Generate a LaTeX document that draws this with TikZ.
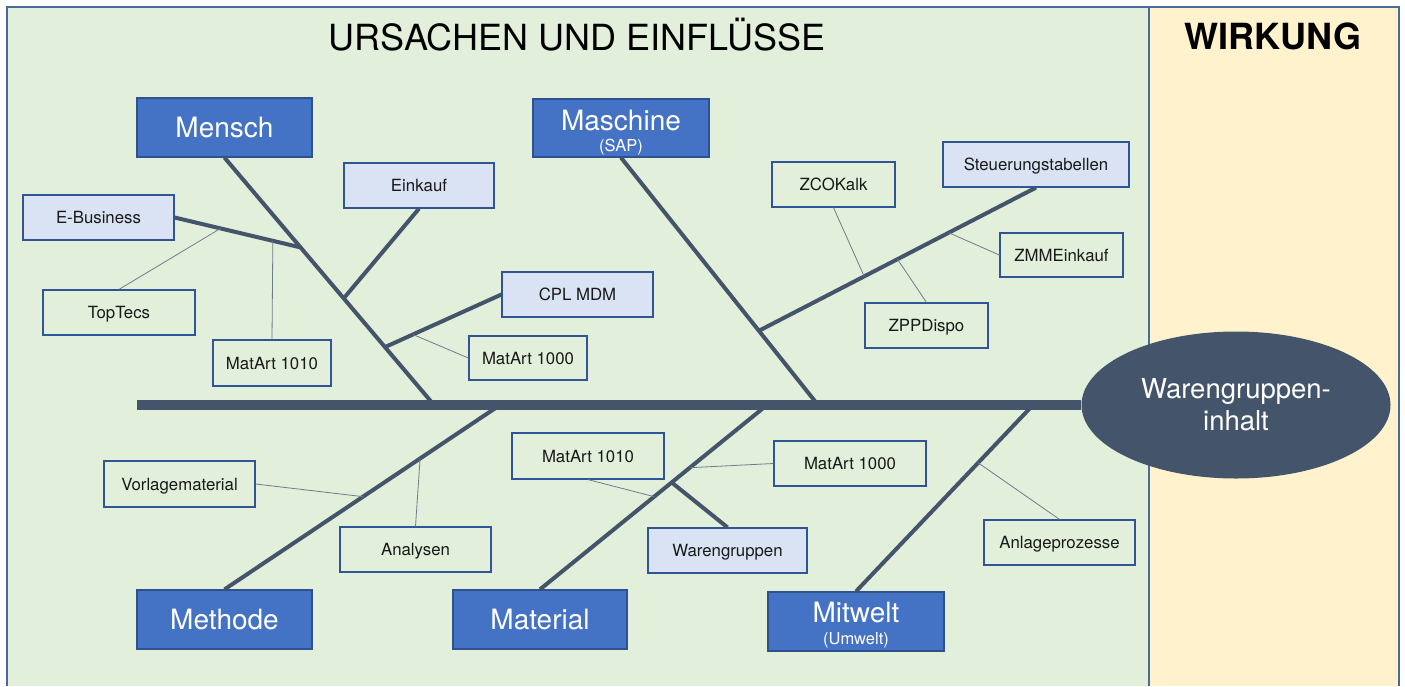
\documentclass[tikz,border=0pt]{standalone}
\usepackage{fontspec}
\setmainfont{TeX Gyre Heros}
\usetikzlibrary{calc,shapes.geometric}

\definecolor{panelgreen}{HTML}{E2EFDA}
\definecolor{panelyellow}{HTML}{FFF2CC}
\definecolor{frameblue}{HTML}{4A6A9E}
\definecolor{catblue}{HTML}{4472C4}
\definecolor{catedge}{HTML}{2F528F}
\definecolor{causefill}{HTML}{DAE3F3}
\definecolor{causeedge}{HTML}{2F5597}
\definecolor{slate}{HTML}{44546A}
\definecolor{twig}{HTML}{6E7D8C}

\newcommand{\setfs}[1]{\fontsize{#1}{#1}\selectfont}

\tikzset{
  catbox/.style={draw=catedge, fill=catblue, line width=1.2pt, minimum width=175pt,
    minimum height=59pt, inner sep=0pt, text=white, font=\setfs{28},
    text height=20pt, text depth=0pt},
  cattext/.style={inner sep=0pt, text=white, font=\setfs{28}, text height=20pt, text depth=0pt},
  subtext/.style={inner sep=0pt, text=white, font=\setfs{16.5}, text height=11.8pt, text depth=0pt},
  causebox/.style={draw=causeedge, line width=1.2pt, minimum height=45pt, inner sep=0pt,
    font=\setfs{16.8}, text height=12pt, text depth=0pt, text=black!90},
  shadedbox/.style={causebox, fill=causefill},
  openbox/.style={causebox},
  bone/.style={slate, line width=4pt},
  spineline/.style={slate, line width=10pt},
  twigline/.style={twig, line width=0.8pt},
}

\begin{document}
\begin{tikzpicture}[x=1pt, y=-1pt]
  % canvas and the two panels
  \fill[white] (0,0) rectangle (1405,686);
  \useasboundingbox (0,0) rectangle (1405,686);
  \fill[panelgreen] (7,7) rectangle (1149,686);
  \fill[panelyellow] (1149,7) rectangle (1399,686);
  \draw[frameblue, line width=1.5pt] (7,686) -- (7,7) -- (1399,7) -- (1399,686);
  \draw[frameblue, line width=1.5pt] (1149,7) -- (1149,686);

  % headings
  \node[inner sep=0pt, font=\setfs{36}, text height=26pt, text depth=0pt] (causes-title)
    at (577,37.5) {URSACHEN UND EINFLÜSSE};
  \node[inner sep=0pt, font=\setfs{36}\bfseries, text height=26pt, text depth=0pt] (effect-title)
    at (1273,36.5) {WIRKUNG};

  % effect (fish head)
  \node[ellipse, fill=slate, minimum width=309pt, minimum height=147pt, inner sep=0pt,
    text=white, align=center, font=\fontsize{27.5}{32}\selectfont] (effect)
    at (1236,405) {Warengruppen-\\inhalt};

  % main categories
  \node[catbox] (mensch) at (224.5,127.5) {Mensch};
  \node[catbox, minimum width=176pt, minimum height=58pt] (maschine) at (621,128) {};
  \node[cattext] (maschine-t) at (621,120) {Maschine};
  \node[subtext] (maschine-s) at (621,146) {(SAP)};
  \node[catbox] (methode) at (224.5,619.5) {Methode};
  \node[catbox, minimum width=174pt] (material) at (540,619.5) {Material};
  \node[catbox, minimum width=176pt] (mitwelt) at (856,621.5) {};
  \node[cattext] (mitwelt-t) at (856,612) {Mitwelt};
  \node[subtext] (mitwelt-s) at (856,639) {(Umwelt)};

  % causes
  \node[shadedbox, minimum width=151pt] (ebiz) at (98.5,217.5) {E-Business};
  \node[shadedbox, minimum width=150pt] (einkauf) at (419,185.5) {Einkauf};
  \node[shadedbox, minimum width=151pt] (cpl) at (577.5,294.5) {CPL MDM};
  \node[openbox, minimum width=152pt] (toptecs) at (119,312.5) {TopTecs};
  \node[openbox, minimum width=118pt, minimum height=46pt] (matart-a) at (272,363) {MatArt 1010};
  \node[openbox, minimum width=118pt, minimum height=44pt] (matart-b) at (528,358) {MatArt 1000};

  \node[openbox, minimum width=123pt] (zcokalk) at (833.5,184.5) {ZCOKalk};
  \node[shadedbox, minimum width=186pt] (steuer) at (1036,164.5) {Steuerungstabellen};
  \node[openbox, minimum width=123pt, minimum height=44pt] (zmm) at (1061.5,255) {ZMMEinkauf};
  \node[openbox, minimum width=123pt] (zpp) at (926.5,325.5) {ZPPDispo};

  \node[openbox, minimum width=151pt, minimum height=46pt] (vorlage) at (179.5,484) {Vorlagematerial};
  \node[openbox, minimum width=151pt] (analysen) at (415.5,549.5) {Analysen};

  \node[openbox, minimum width=152pt, minimum height=46pt] (matart-c) at (588,456) {MatArt 1010};
  \node[openbox, minimum width=152pt] (matart-d) at (850,463.5) {MatArt 1000};
  \node[shadedbox, minimum width=159pt] (waren) at (727.5,550.5) {Warengruppen};

  \node[openbox, minimum width=151pt] (anlage) at (1059.5,542.5) {Anlageprozesse};

  % spine and the points where the main bones meet it
  \coordinate (spine-left) at (137,405);
  \coordinate (s-mensch) at (434,405);
  \coordinate (s-maschine) at (818,405);
  \coordinate (s-methode) at (500,405);
  \coordinate (s-material) at (767,405);
  \coordinate (s-mitwelt) at (1033,405);
  \draw[spineline] (spine-left) -- (effect.west);

  % Mensch
  \draw[bone] (mensch.south) -- (s-mensch);
  \coordinate (m1) at ($(mensch.south)!0.363!(s-mensch)$);
  \coordinate (m2) at ($(mensch.south)!0.569!(s-mensch)$);
  \coordinate (m3) at ($(mensch.south)!0.766!(s-mensch)$);
  \draw[bone] (ebiz.east) -- (m1);
  \draw[twigline] ($(ebiz.east)!0.365!(m1)$) -- (toptecs.north);
  \draw[twigline] ($(ebiz.east)!0.78!(m1)$) -- (matart-a.north);
  \draw[bone] (einkauf.south) -- (m2);
  \draw[bone] (m3) -- (cpl.west);
  \draw[twigline] ($(m3)!0.24!(cpl.west)$) -- (matart-b.west);

  % Maschine
  \draw[bone] (maschine.south) -- (s-maschine);
  \coordinate (q1) at ($(maschine.south)!0.70!(s-maschine)$);
  \draw[bone] (q1) -- (steuer.south);
  \draw[twigline] ($(q1)!0.38!(steuer.south)$) -- (zcokalk.south);
  \draw[twigline] ($(q1)!0.50!(steuer.south)$) -- (zpp.north);
  \draw[twigline] ($(q1)!0.685!(steuer.south)$) -- (zmm.west);

  % Methode
  \draw[bone] (s-methode) -- (methode.north);
  \draw[twigline] ($(s-methode)!0.497!(methode.north)$) -- (vorlage.east);
  \draw[twigline] ($(s-methode)!0.29!(methode.north)$) -- (analysen.north);

  % Material
  \draw[bone] (s-material) -- (material.north);
  \coordinate (a1) at ($(s-material)!0.42!(material.north)$);
  \draw[bone] (a1) -- (waren.north);
  \draw[twigline] ($(s-material)!0.34!(material.north)$) -- (matart-d.west);
  \draw[twigline] ($(s-material)!0.497!(material.north)$) -- (matart-c.south);

  % Mitwelt
  \draw[bone] (s-mitwelt) -- (mitwelt.north);
  \draw[twigline] ($(s-mitwelt)!0.31!(mitwelt.north)$) -- (anlage.north);
\end{tikzpicture}
\end{document}
